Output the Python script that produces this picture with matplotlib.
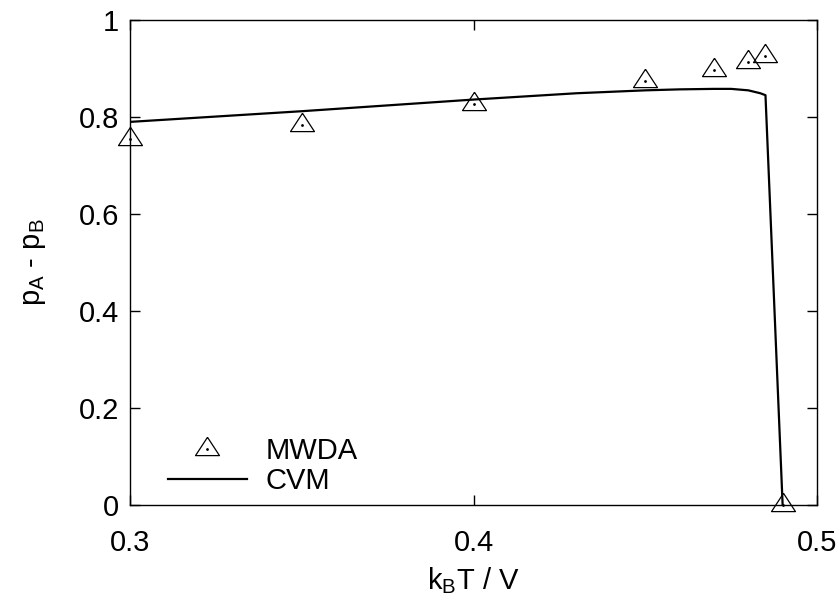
import numpy as np
import matplotlib
matplotlib.use("Agg")
import matplotlib.pyplot as plt
from matplotlib.legend_handler import HandlerTuple

# =====================================================
# Data
# =====================================================
# MWDA points
mwda_T = [0.30, 0.35, 0.40, 0.45, 0.47, 0.48, 0.485, 0.49]
mwda_p = [0.755, 0.784, 0.827, 0.875, 0.897, 0.913, 0.925, 0.0]

# CVM curve
cvm_T = [0.30, 0.35, 0.40, 0.43, 0.45, 0.46, 0.47, 0.475, 0.48, 0.4835, 0.485, 0.49]
cvm_p = [0.790, 0.812, 0.836, 0.849, 0.855, 0.857, 0.858, 0.858, 0.855, 0.849, 0.845, 0.0]

# =====================================================
# Style
# =====================================================
plt.rcParams["font.family"] = ["Liberation Sans", "DejaVu Sans"]
plt.rcParams["mathtext.fontset"] = "custom"
plt.rcParams["mathtext.rm"] = "Liberation Sans"
plt.rcParams["mathtext.it"] = "Liberation Sans"
FS = 21

# triangle with its centroid on the data point (gnuplot style)
tri = [(0.0, 1.0), (-0.98, -0.5), (0.98, -0.5), (0.0, 1.0)]

fig = plt.figure(figsize=(8.4, 6.0), dpi=100)
ax = fig.add_axes([0.155, 0.158, 0.8176, 0.8087])

ax.plot(cvm_T, cvm_p, color="black", lw=1.6, label="CVM", zorder=2)
pts = ax.plot(mwda_T, mwda_p, linestyle="none", marker=tri, markersize=17.6,
              markerfacecolor="none", markeredgecolor="black",
              markeredgewidth=0.9, clip_on=False, zorder=3)[0]
dots = ax.plot(mwda_T, mwda_p, linestyle="none", marker="o", markersize=1.0,
               color="black", clip_on=False, zorder=3)[0]

ax.set_xlim(0.3, 0.5)
ax.set_ylim(0, 1)
ax.set_xticks([0.3, 0.4, 0.5])
ax.set_xticklabels(["0.3", "0.4", "0.5"])
ax.set_yticks([0, 0.2, 0.4, 0.6, 0.8, 1.0])
ax.set_yticklabels(["0", "0.2", "0.4", "0.6", "0.8", "1"])
ax.tick_params(direction="in", length=7, width=1.0, labelsize=FS,
               top=True, right=True)
ax.tick_params(axis="x", pad=17)
ax.tick_params(axis="y", pad=8)
for s in ax.spines.values():
    s.set_linewidth(1.0)

ax.set_xlabel(r"$\mathregular{k_B}$T / V", fontsize=FS, labelpad=6)
ax.set_ylabel(r"$\mathregular{p_A}$ - $\mathregular{p_B}$", fontsize=FS, labelpad=22)

line_handle = ax.get_lines()[0]
ax.legend([(pts, dots), line_handle], ["MWDA", "CVM"],
          handler_map={tuple: HandlerTuple(ndivide=1)},
          loc="lower left", bbox_to_anchor=(0.055, 0.02),
          frameon=False, fontsize=FS, handlelength=2.7,
          handletextpad=0.65, labelspacing=0.08, borderpad=0,
          borderaxespad=0)

fig.savefig("out.png", dpi=100)
